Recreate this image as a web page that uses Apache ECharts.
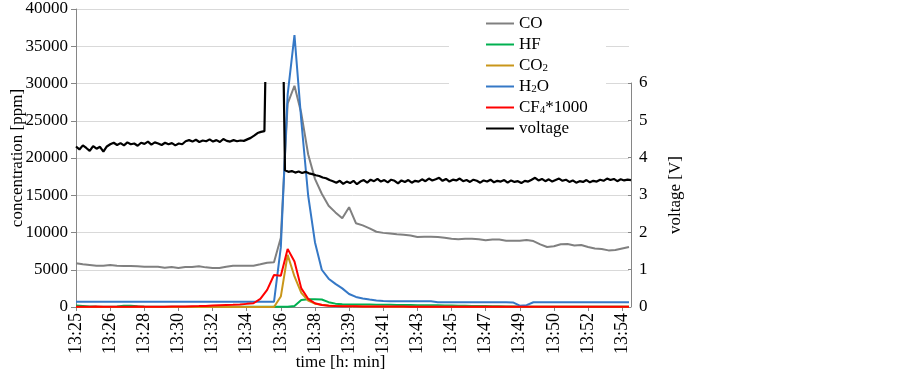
<!DOCTYPE html>
<html>
<head>
<meta charset="utf-8">
<script src="https://cdn.jsdelivr.net/npm/echarts@6/dist/echarts.min.js"></script>
<style>
  html, body { margin: 0; padding: 0; background: #fff; }
  #chart { width: 903px; height: 373px; }
</style>
</head>
<body>
<div id="chart"></div>
<script>
// sample times of the gas analyser (one every ~22 s), shown every 5th
const times = [
  '13:25','13:25','13:25','13:26','13:26','13:26','13:27','13:27','13:28','13:28',
  '13:28','13:29','13:29','13:29','13:30','13:30','13:30','13:31','13:31','13:32',
  '13:32','13:32','13:33','13:33','13:33','13:34','13:34','13:35','13:35','13:35',
  '13:36','13:36','13:36','13:37','13:37','13:38','13:38','13:38','13:39','13:39',
  '13:39','13:40','13:40','13:40','13:41','13:41','13:42','13:42','13:42','13:43',
  '13:43','13:43','13:44','13:44','13:45','13:45','13:45','13:46','13:46','13:46',
  '13:47','13:47','13:48','13:48','13:48','13:49','13:49','13:49','13:50','13:50',
  '13:50','13:51','13:51','13:52','13:52','13:52','13:53','13:53','13:53','13:54',
  '13:54','13:55'
];

// concentrations [ppm]
const co = [
  5860, 5730, 5640, 5550, 5550, 5640, 5550, 5500, 5500, 5460,
  5410, 5410, 5410, 5280, 5370, 5230, 5370, 5370, 5460, 5320,
  5230, 5230, 5410, 5550, 5550, 5550, 5550, 5730, 5950, 6000,
  9300, 27300, 29700, 26000, 20500, 17200, 15200, 13600, 12700, 11900,
  13400, 11250, 10950, 10550, 10100, 9950, 9850, 9750, 9700, 9600,
  9400, 9430, 9430, 9400, 9300, 9150, 9080, 9170, 9170, 9100,
  8950, 9050, 9050, 8900, 8900, 8900, 8990, 8850, 8400, 8060,
  8150, 8430, 8450, 8250, 8320, 8050, 7840, 7780, 7600, 7650,
  7850, 8050
];
const hf = [
  200, 150, 80, 60, 50, 50, 80, 170, 180, 100,
  60, 50, 40, 40, 50, 40, 30, 40, 50, 40,
  30, 30, 40, 40, 30, 30, 40, 30, 30, 40,
  30, 40, 150, 950, 1050, 1050, 1000, 650, 450, 380,
  350, 340, 330, 320, 310, 300, 290, 280, 270, 260,
  250, 240, 230, 220, 200, 190, 180, 170, 150, 140,
  130, 110, 90, 70, 60, 50, 50, 40, 40, 40,
  30, 30, 30, 30, 30, 30, 30, 30, 30, 30,
  30, 30
];
const co2 = [
  10, 10, 10, 10, 10, 10, 10, 10, 10, 10,
  10, 10, 10, 10, 10, 10, 10, 10, 10, 10,
  10, 10, 10, 10, 10, 10, 10, 10, 10, 10,
  1400, 7000, 4100, 1900, 850, 450, 300, 200, 150, 120,
  100, 90, 80, 70, 60, 60, 50, 50, 50, 40,
  40, 40, 40, 30, 30, 30, 30, 30, 30, 30,
  30, 20, 20, 20, 20, 20, 20, 20, 20, 20,
  20, 20, 20, 20, 20, 20, 20, 20, 20, 20,
  20, 20
];
const h2o = [
  700, 700, 700, 700, 700, 700, 700, 700, 700, 700,
  700, 700, 700, 700, 700, 700, 700, 700, 700, 700,
  700, 700, 700, 700, 700, 700, 700, 700, 700, 700,
  8000, 28500, 36500, 25000, 15000, 8700, 5000, 3800, 3100, 2500,
  1750, 1350, 1150, 1000, 880, 800, 780, 760, 760, 760,
  760, 760, 760, 650, 640, 640, 640, 640, 640, 640,
  640, 640, 640, 640, 620, 180, 250, 640, 640, 640,
  640, 640, 640, 640, 640, 640, 640, 640, 640, 640,
  640, 640
];
const cf4x1000 = [
  50, 40, 50, 60, 40, 50, 50, 40, 50, 60,
  50, 40, 50, 50, 60, 70, 80, 100, 120, 150,
  200, 230, 260, 290, 330, 420, 500, 1100, 2300, 4300,
  4200, 7800, 6100, 2500, 1100, 500, 280, 180, 130, 110,
  100, 90, 80, 80, 70, 70, 60, 60, 60, 50,
  50, 50, 50, 50, 40, 40, 40, 40, 40, 40,
  40, 40, 40, 40, 40, 40, 40, 40, 40, 40,
  40, 40, 40, 40, 40, 40, 40, 40, 40, 40,
  40, 40
];

// cell voltage [V], logged more often than the gas data; > 6 V is off scale
const voltage = [
  4.30, 4.22, 4.33, 4.26, 4.18, 4.31, 4.24, 4.29, 4.16, 4.30,
  4.36, 4.40, 4.34, 4.39, 4.33, 4.41, 4.36, 4.38, 4.32, 4.40,
  4.37, 4.43, 4.35, 4.41, 4.38, 4.34, 4.40, 4.36, 4.39, 4.33,
  4.38, 4.36, 4.44, 4.47, 4.43, 4.48, 4.42, 4.46, 4.44, 4.49,
  4.43, 4.47, 4.42, 4.50, 4.45, 4.43, 4.47, 4.44, 4.46, 4.45,
  4.49, 4.53, 4.59, 4.66, 4.69, 4.71, 10, 10, 10, 10,
  10, 3.66, 3.62, 3.64, 3.60, 3.63, 3.59, 3.62, 3.58, 3.56,
  3.53, 3.51, 3.47, 3.45, 3.40, 3.37, 3.33, 3.38, 3.30, 3.36,
  3.32, 3.38, 3.29, 3.36, 3.40, 3.33, 3.41, 3.37, 3.43, 3.36,
  3.40, 3.34, 3.41, 3.38, 3.31, 3.39, 3.35, 3.40, 3.33, 3.38,
  3.36, 3.42, 3.37, 3.44, 3.39, 3.42, 3.46, 3.38, 3.43, 3.36,
  3.41, 3.39, 3.44, 3.37, 3.40, 3.35, 3.41, 3.38, 3.33, 3.39,
  3.36, 3.41, 3.34, 3.38, 3.36, 3.40, 3.33, 3.39, 3.35, 3.37,
  3.32, 3.38, 3.36, 3.41, 3.46, 3.39, 3.43, 3.37, 3.42, 3.36,
  3.40, 3.44, 3.38, 3.41, 3.35, 3.39, 3.33, 3.37, 3.35, 3.40,
  3.34, 3.38, 3.36, 3.41, 3.38, 3.44, 3.40, 3.43, 3.37, 3.42,
  3.39, 3.41, 3.40
];

const font = 'Liberation Serif';
const legendText = {
  'CO2': 'CO{sub|2}',
  'H2O': 'H{sub|2}O',
  'CF4*1000': 'CF{sub|4}*1000'
};

const chart = echarts.init(document.getElementById('chart'));

function gasLine(name, data, color) {
  return {
    name,
    type: 'line',
    data,
    xAxisIndex: 0,
    yAxisIndex: 0,
    symbol: 'none',
    lineStyle: { width: 2, color },
    itemStyle: { color }
  };
}

const option = {
  animation: false,
  backgroundColor: '#fff',
  textStyle: { fontFamily: font, color: '#000' },
  grid: [
    { left: 76, right: 274, top: 9, bottom: 66, outerBoundsMode: 'none' },
    { left: 76, right: 272, top: 83, bottom: 66, outerBoundsMode: 'none' }
  ],
  legend: {
    orient: 'vertical',
    left: 486,
    top: 15,
    padding: 0,
    itemGap: 4,
    itemWidth: 28,
    itemHeight: 2,
    icon: 'rect',
    formatter: name => legendText[name] || name,
    textStyle: {
      fontFamily: font,
      fontSize: 17,
      color: '#000',
      lineHeight: 17,
      rich: {
        sub: { fontFamily: font, fontSize: 11, lineHeight: 17, verticalAlign: 'bottom', color: '#000' }
      }
    },
    data: ['CO', 'HF', 'CO2', 'H2O', 'CF4*1000', 'voltage']
  },
  graphic: [{
    // white box behind the legend, cuts two grid lines as in the original
    type: 'rect',
    left: 449,
    top: 30,
    shape: { width: 157, height: 72 },
    style: { fill: '#fff' },
    z: 1
  }],
  xAxis: [
    {
      type: 'category',
      gridIndex: 0,
      data: times,
      boundaryGap: false,
      name: 'time [h: min]',
      nameLocation: 'middle',
      nameGap: 47,
      nameMoveOverlap: false,
      nameTextStyle: { fontFamily: font, fontSize: 17, color: '#000', padding: [0, 24, 0, 0] },
      axisLine: { lineStyle: { color: '#868686', width: 1 } },
      axisTick: { interval: 4, length: 4, lineStyle: { color: '#868686' } },
      axisLabel: { interval: 4, rotate: 90, margin: 6, fontFamily: font, fontSize: 18, color: '#000' },
      splitLine: { show: false }
    },
    {
      type: 'category',
      gridIndex: 1,
      data: voltage.map((v, i) => i),
      boundaryGap: false,
      show: false
    }
  ],
  yAxis: [
    {
      type: 'value',
      gridIndex: 0,
      min: 0,
      max: 40000,
      interval: 5000,
      name: 'concentration [ppm]',
      nameLocation: 'middle',
      nameRotate: 90,
      nameGap: 50,
      nameMoveOverlap: false,
      nameTextStyle: { fontFamily: font, fontSize: 17, color: '#000' },
      axisLine: { show: true, lineStyle: { color: '#868686', width: 1 } },
      axisTick: { show: true, length: 5, lineStyle: { color: '#868686' } },
      axisLabel: { margin: 8, fontFamily: font, fontSize: 17, color: '#000', formatter: v => String(v) },
      splitLine: { lineStyle: { color: '#d9d9d9', width: 1 } }
    },
    {
      type: 'value',
      gridIndex: 1,
      position: 'right',
      min: 0,
      max: 6,
      interval: 1,
      name: 'voltage [V]',
      nameLocation: 'middle',
      nameRotate: 90,
      nameGap: 36,
      nameMoveOverlap: false,
      nameTextStyle: { fontFamily: font, fontSize: 17, color: '#000' },
      axisLine: { show: true, lineStyle: { color: '#868686', width: 1 } },
      axisTick: { show: true, inside: true, length: 3, lineStyle: { color: '#868686' } },
      axisLabel: { margin: 8, fontFamily: font, fontSize: 17, color: '#000' },
      splitLine: { show: false }
    }
  ],
  series: [
    gasLine('CO', co, '#808080'),
    gasLine('HF', hf, '#00b050'),
    gasLine('CO2', co2, '#c9961a'),
    gasLine('H2O', h2o, '#3578c6'),
    gasLine('CF4*1000', cf4x1000, '#ff0000'),
    {
      name: 'voltage',
      type: 'line',
      data: voltage,
      xAxisIndex: 1,
      yAxisIndex: 1,
      symbol: 'none',
      clip: true,
      lineStyle: { width: 2.2, color: '#000' },
      itemStyle: { color: '#000' }
    }
  ]
};

chart.setOption(option);
</script>
</body>
</html>
